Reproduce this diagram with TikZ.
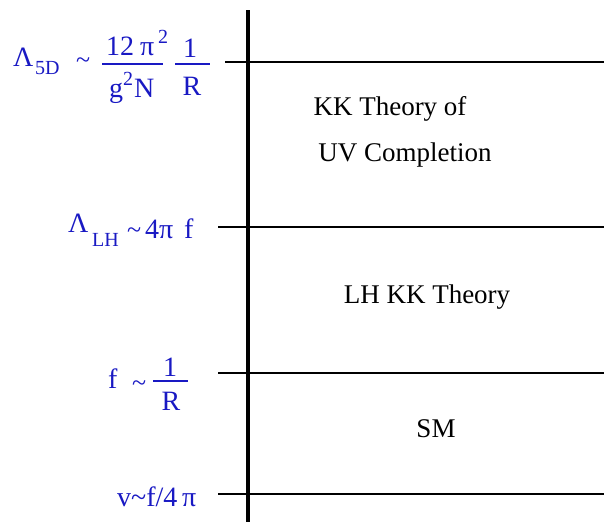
\documentclass[tikz,border=0pt]{standalone}
\usepackage{fontspec}
\setmainfont{Liberation Serif}
\definecolor{lblue}{RGB}{25,25,195}
\tikzset{
  lbl/.style={inner sep=0pt, anchor=base west, text=lblue, font=\rmfamily\fontsize{28}{32}\selectfont},
  lblc/.style={inner sep=0pt, anchor=base, text=lblue, font=\rmfamily\fontsize{28}{32}\selectfont},
  sml/.style={inner sep=0pt, anchor=base west, text=lblue, font=\rmfamily\fontsize{20}{24}\selectfont},
  tld/.style={inner sep=0pt, anchor=base west, text=lblue, font=\rmfamily\fontsize{26}{30}\selectfont},
  txt/.style={inner sep=0pt, anchor=base, font=\rmfamily\fontsize{27}{32}\selectfont},
  level/.style={line width=2.2pt},
  fbar/.style={line width=1.3pt, draw=lblue}
}
\begin{document}
\begin{tikzpicture}[x=1pt,y=-1pt]
\useasboundingbox (0,0) rectangle (604,522);
% axis
\coordinate (axT) at (248,10);
\coordinate (axB) at (248,522);
\draw[line width=4pt] (axT) -- (axB);
% levels
\coordinate (l1a) at (225,62);  \coordinate (l1b) at (604,62);
\coordinate (l2a) at (218,227); \coordinate (l2b) at (604,227);
\coordinate (l3a) at (218,373); \coordinate (l3b) at (604,373);
\coordinate (l4a) at (218,494); \coordinate (l4b) at (604,494);
\draw[level] (l1a) -- (l1b);
\draw[level] (l2a) -- (l2b);
\draw[level] (l3a) -- (l3b);
\draw[level] (l4a) -- (l4b);
% region texts
\node[txt] (t1) at (390,115) {KK Theory of};
\node[txt] (t2) at (405,161) {UV Completion};
\node[txt] (t3) at (427,303) {LH KK Theory};
\node[txt] (t4) at (436,437) {SM};
% label 1
\node[lbl] (a1) at (13,66) {Λ};
\node[sml] (a2) at (35,74) {5D};
\node[tld] (a3) at (76,68) {\char`\~};
\node[lbl] (a4) at (106,55) {12};
\node[lbl] (a4b) at (140,55) {π};
\node[sml] (a5) at (158,43) {2};
\coordinate (b1a) at (102,64); \coordinate (b1b) at (163,64);
\draw[fbar] (b1a) -- (b1b);
\node[lbl] (a6) at (109,97) {g};
\node[sml] (a7) at (123,85) {2};
\node[lbl] (a8) at (134,97) {N};
\coordinate (b2a) at (175,64); \coordinate (b2b) at (210,64);
\draw[fbar] (b2a) -- (b2b);
\node[lblc] (a9) at (190,57) {1};
\node[lblc] (a10) at (192,95) {R};
% label 2
\node[lbl] (c1) at (68,232) {Λ};
\node[sml] (c2) at (92,246) {LH};
\node[tld] (c3) at (127,238) {\char`\~};
\node[lbl] (c4) at (145,238) {4};
\node[lbl] (c5) at (159,238) {π};
\node[lbl] (c6) at (184,238) {f};
% label 3
\node[lbl] (d1) at (108,388) {f};
\node[tld] (d2) at (132,391) {\char`\~};
\coordinate (b3a) at (153,381); \coordinate (b3b) at (188,381);
\draw[fbar] (b3a) -- (b3b);
\node[lblc] (d3) at (170,376) {1};
\node[lblc] (d4) at (171,410) {R};
% label 4
\node[lbl] (e1) at (117,506) {v\char`\~f/4\,π};
\end{tikzpicture}
\end{document}
